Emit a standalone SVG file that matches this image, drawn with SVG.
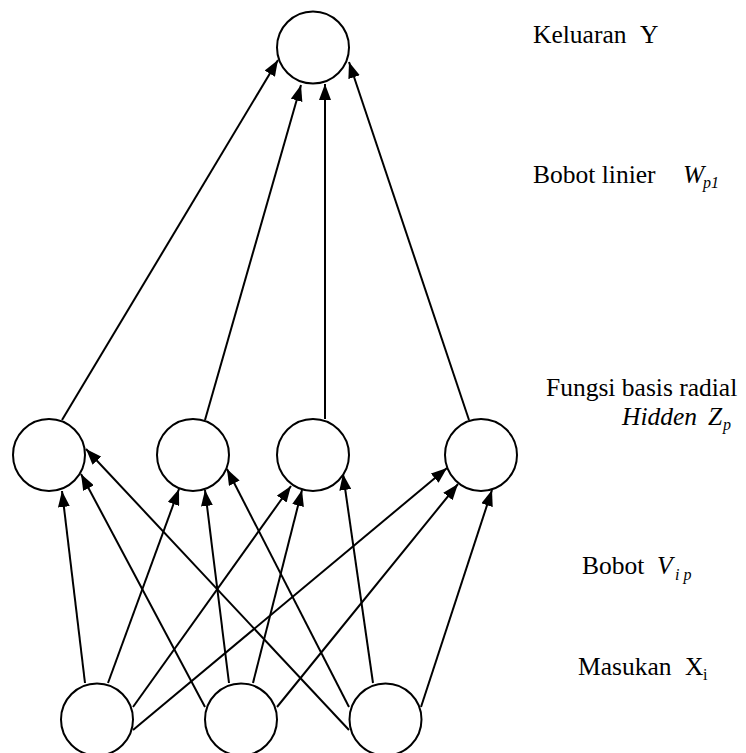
<svg xmlns="http://www.w3.org/2000/svg" width="746" height="753" viewBox="0 0 746 753">
<style>
.n{fill:#fff;stroke:#000;stroke-width:2}
.e{stroke:#000;stroke-width:2;fill:none;marker-end:url(#ah)}
.t{font-family:"Liberation Serif","Times New Roman",serif;font-size:25.5px;fill:#000}
.i{font-style:italic}
.s{font-size:16px}
</style>
<defs>
<marker id="ah" markerUnits="userSpaceOnUse" markerWidth="16" markerHeight="12" refX="16" refY="6" orient="auto">
<path d="M0,0 L16,6 L0,12 z" fill="#000"/>
</marker>
</defs>
<rect width="746" height="753" fill="#fff"/>
<g id="connectors">
<line class="e" x1="62" y1="420" x2="278" y2="60"/>
<line class="e" x1="205" y1="420" x2="301" y2="85"/>
<line class="e" x1="325" y1="419" x2="325" y2="84"/>
<line class="e" x1="469" y1="420" x2="349" y2="62"/>
<line class="e" x1="85" y1="683" x2="62" y2="491"/>
<line class="e" x1="108" y1="683" x2="179" y2="489"/>
<line class="e" x1="133" y1="707" x2="291" y2="486"/>
<line class="e" x1="133" y1="730" x2="447" y2="468"/>
<line class="e" x1="205" y1="707" x2="81" y2="474"/>
<line class="e" x1="229" y1="683" x2="205" y2="490"/>
<line class="e" x1="253" y1="683" x2="302" y2="490"/>
<line class="e" x1="277" y1="707" x2="458" y2="484"/>
<line class="e" x1="349" y1="730" x2="86" y2="449"/>
<line class="e" x1="349" y1="707" x2="227" y2="469"/>
<line class="e" x1="373" y1="683" x2="343" y2="474"/>
<line class="e" x1="421" y1="707" x2="492" y2="490"/>
</g>
<g id="output"><circle class="n" cx="313" cy="47.5" r="36"/></g>
<g id="hidden1"><circle class="n" cx="49" cy="455" r="36"/></g>
<g id="hidden2"><circle class="n" cx="193" cy="455" r="36"/></g>
<g id="hidden3"><circle class="n" cx="313" cy="455" r="36"/></g>
<g id="hidden4"><circle class="n" cx="481" cy="455" r="36"/></g>
<g id="input1"><circle class="n" cx="97" cy="719.5" r="36"/></g>
<g id="input2"><circle class="n" cx="241" cy="719.5" r="36"/></g>
<g id="input3"><circle class="n" cx="385.5" cy="719.5" r="36"/></g>
<g id="labels">
<text class="t" x="533" y="43">Keluaran</text>
<text class="t" x="640" y="43">Y</text>
<text class="t" x="533" y="183">Bobot linier</text>
<text class="t i" x="683" y="183">W</text>
<text class="t i s" x="703" y="188">p1</text>
<text class="t" x="546" y="396">Fungsi basis radial</text>
<text class="t i" x="622" y="425">Hidden</text>
<text class="t i" x="708" y="425">Z</text>
<text class="t i s" x="723" y="430">p</text>
<text class="t" x="582" y="574">Bobot</text>
<text class="t i" x="657" y="574">V</text>
<text class="t i s" x="675" y="580">i p</text>
<text class="t" x="578" y="675">Masukan</text>
<text class="t" x="685" y="675">X</text>
<text class="t s" x="703" y="680">i</text>
</g>
</svg>
